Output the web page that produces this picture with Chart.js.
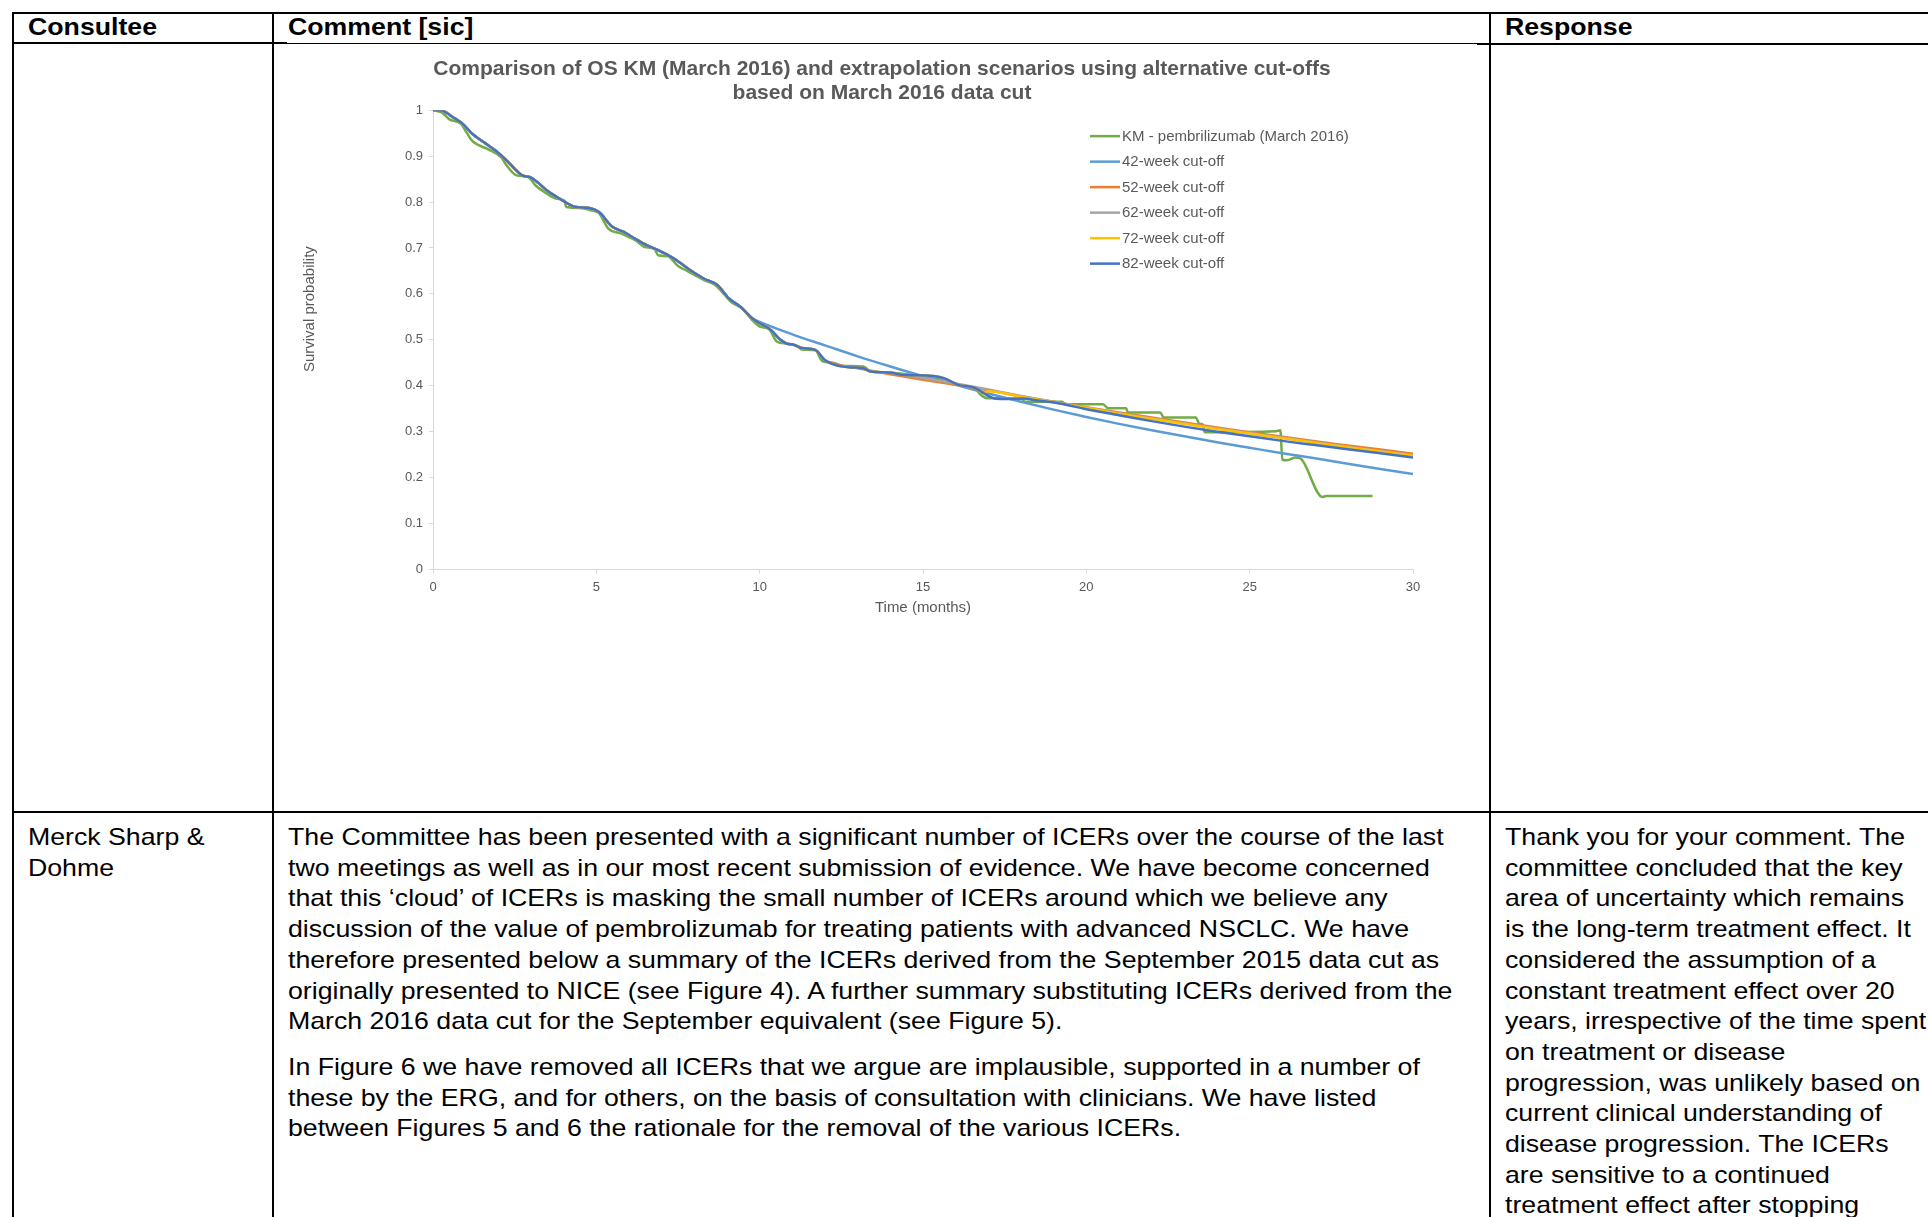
<!DOCTYPE html>
<html>
<head>
<meta charset="utf-8">
<script src="https://cdn.jsdelivr.net/npm/chart.js@4.4.0/dist/chart.umd.min.js"></script>
<style>
html,body{margin:0;padding:0;background:#fff;width:1928px;height:1217px;overflow:hidden;font-family:'Liberation Sans',Arial,sans-serif;}
.ln{position:absolute;background:#000;}
.t{position:absolute;font-size:24px;line-height:30.7px;color:#000;white-space:nowrap;transform:scaleX(1.112);transform-origin:0 0;}
.h{font-weight:bold;}
#cw{position:absolute;left:287px;top:46px;width:1190px;height:580px;}
</style>
</head>
<body>
<!-- table rules -->
<div class="ln" style="left:12px;top:12px;width:1916px;height:2px;"></div>
<div class="ln" style="left:12px;top:12px;width:2px;height:1205px;"></div>
<div class="ln" style="left:272px;top:12px;width:2px;height:1205px;"></div>
<div class="ln" style="left:1489px;top:12px;width:2px;height:1205px;"></div>
<div class="ln" style="left:12px;top:42px;width:275px;height:2px;"></div>
<div class="ln" style="left:287px;top:43px;width:1190px;height:1px;"></div>
<div class="ln" style="left:1477px;top:43px;width:451px;height:2px;"></div>
<div class="ln" style="left:12px;top:811px;width:1916px;height:2px;"></div>

<div class="t h" style="left:28px;top:12px;">Consultee</div>
<div class="t h" style="left:288px;top:12px;">Comment [sic]</div>
<div class="t h" style="left:1505px;top:12px;">Response</div>

<div id="cw"><canvas id="c"></canvas></div>

<div class="t" style="left:28px;top:822px;">Merck Sharp &amp;<br>Dohme</div>
<div class="t" style="left:288px;top:822px;">The Committee has been presented with a significant number of ICERs over the course of the last<br>two meetings as well as in our most recent submission of evidence. We have become concerned<br>that this ‘cloud’ of ICERs is masking the small number of ICERs around which we believe any<br>discussion of the value of pembrolizumab for treating patients with advanced NSCLC. We have<br>therefore presented below a summary of the ICERs derived from the September 2015 data cut as<br>originally presented to NICE (see Figure 4). A further summary substituting ICERs derived from the<br>March 2016 data cut for the September equivalent (see Figure 5).</div>
<div class="t" style="left:288px;top:1052px;">In Figure 6 we have removed all ICERs that we argue are implausible, supported in a number of<br>these by the ERG, and for others, on the basis of consultation with clinicians. We have listed<br>between Figures 5 and 6 the rationale for the removal of the various ICERs.</div>
<div class="t" style="left:1505px;top:822px;">Thank you for your comment. The<br>committee concluded that the key<br>area of uncertainty which remains<br>is the long-term treatment effect. It<br>considered the assumption of a<br>constant treatment effect over 20<br>years, irrespective of the time spent<br>on treatment or disease<br>progression, was unlikely based on<br>current clinical understanding of<br>disease progression. The ICERs<br>are sensitive to a continued<br>treatment effect after stopping</div>

<script>
// ---------- data ----------
const chartTitle = ['Comparison of OS KM (March 2016) and extrapolation scenarios using alternative cut-offs', 'based on March 2016 data cut'];
const xTitle = 'Time (months)';
const yTitle = 'Survival probability';
const xTickLabels = ['0','5','10','15','20','25','30'];
const yTickLabels = ['0','0.1','0.2','0.3','0.4','0.5','0.6','0.7','0.8','0.9','1'];
const seriesNames = ['KM - pembrilizumab (March 2016)','42-week cut-off','52-week cut-off','62-week cut-off','72-week cut-off','82-week cut-off'];
const seriesColors = ['#70AD47','#5B9BD5','#ED7D31','#A5A5A5','#FFC000','#4472C4'];

// Kaplan-Meier (green)
const kmMonths = [0,0.27,0.5,0.86,1.03,1.2,1.68,2.09,2.26,2.56,2.9,3.14,3.43,3.79,4.02,4.08,4.49,4.84,5.08,5.37,5.78,6.19,6.48,6.78,6.89,7.19,7.48,7.83,8.3,8.65,8.94,9.12,9.47,9.77,10.0,10.29,10.53,10.82,11.17,11.29,11.7,11.93,12.23,12.58,13.17,13.4,13.96,14.5,15.0,15.64,16.1,16.63,16.74,16.96,18.05,18.1,19.25,19.36,20.51,20.67,21.22,21.27,22.26,22.37,23.35,23.46,23.55,23.62,25.81,25.94,26.0,26.14,26.41,26.57,27.23,27.34,28.76];
const kmSurv   = [1,0.995,0.98,0.97,0.951,0.933,0.915,0.897,0.879,0.858,0.855,0.836,0.821,0.807,0.803,0.789,0.787,0.782,0.776,0.742,0.731,0.717,0.702,0.698,0.684,0.682,0.662,0.648,0.63,0.619,0.597,0.583,0.568,0.543,0.529,0.523,0.496,0.492,0.485,0.479,0.477,0.453,0.45,0.443,0.442,0.431,0.429,0.425,0.422,0.413,0.402,0.391,0.382,0.373,0.371,0.365,0.365,0.36,0.36,0.351,0.351,0.342,0.342,0.331,0.331,0.317,0.317,0.299,0.301,0.303,0.239,0.238,0.244,0.241,0.158,0.16,0.16];

// observed part shared by the extrapolation scenarios (before each cut-off)
const fitBaseMonths = [0,0.27,0.62,0.91,1.21,1.56,1.91,2.26,2.56,2.73,2.97,3.2,3.49,3.79,4.14,4.37,4.78,5.08,5.49,5.84,6.19,6.54,6.89,7.3,7.54,7.89,8.3,8.71,9.06,9.41,9.77,10.0,10.35,10.59,10.82,11.06,11.29,11.7,11.99,12.34,12.81,13.17,13.4,13.96,14.33,15.32,15.64,16.08,16.57,16.85,17.17,17.61,18.05,18.49,19.14];
const fitBaseSurv   = [1,0.999,0.984,0.97,0.948,0.93,0.912,0.89,0.868,0.858,0.854,0.843,0.825,0.811,0.796,0.789,0.787,0.778,0.746,0.735,0.72,0.706,0.695,0.68,0.669,0.651,0.633,0.619,0.59,0.572,0.547,0.536,0.521,0.503,0.492,0.489,0.482,0.478,0.456,0.445,0.44,0.438,0.431,0.429,0.424,0.4215,0.4165,0.402,0.396,0.384,0.373,0.371,0.372,0.368,0.362];

// extrapolated tails
const w42Months = [10,11,12,13,14,15,16,17,18,19,20,21,22,23,24,25,26,27,28,29,30];
const w42Surv   = [0.539,0.512,0.488,0.464,0.442,0.421,0.402,0.383,0.365,0.348,0.332,0.317,0.303,0.290,0.277,0.265,0.253,0.242,0.230,0.219,0.208];
const w52Months = [12.34,13,14,15,16,17,18,19,20,21,22,23,24,25,26,27,28,29,30];
const w52Surv   = [0.447,0.438,0.425,0.413,0.402,0.390,0.377,0.365,0.353,0.342,0.331,0.320,0.309,0.299,0.289,0.279,0.270,0.261,0.252];
const w62Months = [15,16,17,18,19,20,21,22,23,24,25,26,27,28,29,30];
const w62Surv   = [0.417,0.405,0.392,0.378,0.365,0.352,0.340,0.329,0.318,0.307,0.297,0.287,0.277,0.267,0.258,0.249];
const w72Months = [17,18,19,20,21,22,23,24,25,26,27,28,29,30];
const w72Surv   = [0.388,0.376,0.364,0.352,0.339,0.328,0.317,0.306,0.296,0.286,0.276,0.266,0.257,0.248];
const w82Months = [20,21,22,23,24,25,26,27,28,29,30];
const w82Surv   = [0.349,0.336,0.323,0.311,0.300,0.290,0.280,0.271,0.262,0.253,0.244];

// ---------- build ----------
function pts(xs, ys){ return xs.map((x,i)=>({x:x, y:ys[i]})); }
function scenario(tx, ty){
  const base = pts(fitBaseMonths, fitBaseSurv).filter(p => p.x < tx[0]);
  return base.concat(pts(tx, ty));
}
const seriesData = [
  pts(kmMonths, kmSurv),
  scenario(w42Months, w42Surv),
  scenario(w52Months, w52Surv),
  scenario(w62Months, w62Surv),
  scenario(w72Months, w72Surv),
  scenario(w82Months, w82Surv)
];

const FONT = "'Liberation Sans', Arial, sans-serif";
const GREY = '#595959';
Chart.defaults.font.family = FONT;
Chart.defaults.color = GREY;

// legend drawn inside the plot area, Excel style
const insideLegend = {
  id: 'insideLegend',
  afterDraw(chart){
    const {ctx, chartArea} = chart;
    const x0 = chartArea.left + 657, y0 = chartArea.top + 26, step = 25.5;
    ctx.save();
    ctx.font = '15px ' + FONT;
    ctx.textBaseline = 'middle';
    ctx.textAlign = 'left';
    chart.data.datasets.forEach((ds, i) => {
      const y = y0 + i*step;
      ctx.strokeStyle = ds.borderColor;
      ctx.lineWidth = 2.5;
      ctx.beginPath(); ctx.moveTo(x0, y); ctx.lineTo(x0+30, y); ctx.stroke();
      ctx.fillStyle = GREY;
      ctx.fillText(ds.label, x0+32, y+0.5);
    });
    ctx.restore();
  }
};

// vertical axis title, placed where the original puts it
const yAxisTitle = {
  id: 'yAxisTitle',
  afterDraw(chart){
    const {ctx, chartArea} = chart;
    ctx.save();
    ctx.translate(chartArea.left - 123, chartArea.top + 199);
    ctx.rotate(-Math.PI/2);
    ctx.font = '15px ' + FONT;
    ctx.fillStyle = GREY;
    ctx.textAlign = 'center';
    ctx.textBaseline = 'middle';
    ctx.fillText(yTitle, 0, 0);
    ctx.restore();
  }
};

new Chart(document.getElementById('c'), {
  type: 'line',
  data: {
    datasets: seriesNames.map((name, i) => ({
      label: name,
      data: seriesData[i],
      borderColor: seriesColors[i],
      backgroundColor: seriesColors[i],
      borderWidth: 2.5,
      pointRadius: 0,
      fill: false,
      cubicInterpolationMode: 'monotone',
      order: seriesNames.length - i
    }))
  },
  options: {
    responsive: true,
    maintainAspectRatio: false,
    devicePixelRatio: 1,
    animation: false,
    layout: {padding: {left: 64, right: 64, top: 0, bottom: 5}},
    plugins: {
      legend: {display: false},
      tooltip: {enabled: false},
      title: {
        display: true,
        text: chartTitle,
        color: GREY,
        font: {size: 21, weight: 'bold', lineHeight: 1.17},
        padding: {top: 10.5, bottom: 4.5}
      }
    },
    scales: {
      x: {
        type: 'linear', min: 0, max: 30,
        afterFit: s => { s.height = 51.5; },
        ticks: {stepSize: 5, font: {size: 13}, color: GREY, padding: 6, maxRotation: 0,
          callback: (v, i) => xTickLabels[i]},
        grid: {display: true, drawOnChartArea: false, drawTicks: true, tickLength: 4, color: '#D9D9D9'},
        border: {display: true, color: '#D9D9D9', width: 1},
        title: {display: true, text: xTitle, color: GREY, font: {size: 15}, padding: {top: 4, bottom: 4}}
      },
      y: {
        type: 'linear', min: 0, max: 1,
        afterFit: s => { s.width = 82; },
        ticks: {stepSize: 0.1, font: {size: 13}, color: GREY, padding: 6,
          callback: (v, i) => yTickLabels[i]},
        grid: {display: true, drawOnChartArea: false, drawTicks: true, tickLength: 4, color: '#D9D9D9'},
        border: {display: true, color: '#D9D9D9', width: 1},
        title: {display: false}
      }
    }
  },
  plugins: [insideLegend, yAxisTitle]
});
</script>
</body>
</html>
